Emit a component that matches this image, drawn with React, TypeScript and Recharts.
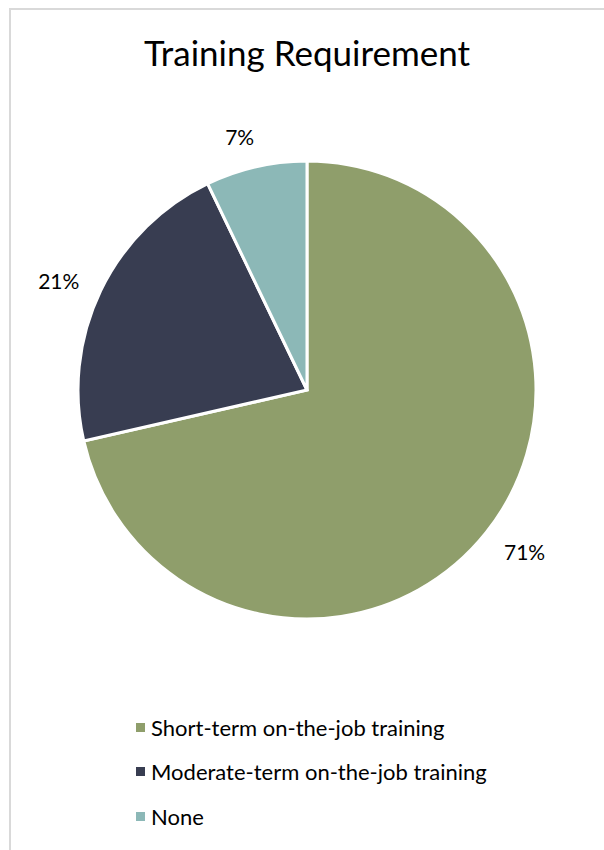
import { PieChart, Pie, Cell, Legend } from "recharts";

const categories = [
  "Short-term on-the-job training",
  "Moderate-term on-the-job training",
  "None",
];
const counts = [10, 3, 1];
const percentLabels = ["71%", "21%", "7%"];
const colors = ["#8F9E6B", "#383D51", "#8CB8B7"];

const data = categories.map((name, i) => ({
  name,
  value: counts[i],
  label: percentLabels[i],
}));

const FONT = "Lato, 'Noto Sans', sans-serif";
const RAD = Math.PI / 180;
const LABEL_SIZE = 21;

// label box sits a fixed gap outside the arc, like Excel's "outside end"
const renderLabel = (props: any) => {
  const { cx, cy, midAngle, outerRadius, index } = props;
  const text = percentLabels[index];
  const a = (midAngle + 2) * RAD;
  const ux = Math.cos(-a);
  const uy = Math.sin(-a);
  const halfW = (text.length * LABEL_SIZE * 0.62) / 2;
  const halfH = LABEL_SIZE / 2;
  const r = outerRadius + 20 + Math.abs(ux) * halfW + Math.abs(uy) * halfH;
  return (
    <text
      x={cx + r * ux}
      y={cy + r * uy}
      fill="#000"
      fontSize={LABEL_SIZE}
      fontFamily={FONT}
      textAnchor="middle"
      dominantBaseline="central"
    >
      {text}
    </text>
  );
};

const renderLegend = () => (
  <div style={{ fontFamily: FONT, fontSize: 22, color: "#000" }}>
    {data.map((d, i) => (
      <div
        key={d.name}
        style={{ display: "flex", alignItems: "center", height: 44.5 }}
      >
        <span
          style={{
            display: "inline-block",
            width: 9,
            height: 9,
            background: colors[i],
            marginRight: 6,
          }}
        />
        {d.name}
      </div>
    ))}
  </div>
);

export default function App() {
  return (
    <div
      style={{
        position: "absolute",
        left: 0,
        top: 0,
        width: 604,
        height: 850,
        background: "#fff",
        overflow: "hidden",
      }}
    >
      <div
        style={{
          position: "absolute",
          left: 9,
          top: 8,
          width: 620,
          height: 880,
          border: "2px solid #d9d9d9",
          boxSizing: "border-box",
        }}
      />
      <div
        style={{
          position: "absolute",
          left: 0,
          top: 31,
          width: 614,
          textAlign: "center",
          fontFamily: FONT,
          fontSize: 35,
          color: "#000",
        }}
      >
        Training Requirement
      </div>
      <div style={{ position: "absolute", left: 0, top: 0 }}>
        <PieChart
          width={604}
          height={850}
          margin={{ top: 0, right: 0, bottom: 0, left: 0 }}
        >
          <Pie
            data={data}
            dataKey="value"
            nameKey="name"
            cx={307}
            cy={390}
            outerRadius={229}
            startAngle={90}
            endAngle={-270}
            stroke="#fff"
            strokeWidth={3}
            label={renderLabel}
            labelLine={false}
            isAnimationActive={false}
          >
            {data.map((d, i) => (
              <Cell key={d.name} fill={colors[i]} />
            ))}
          </Pie>
          <Legend
            content={renderLegend}
            wrapperStyle={{ position: "absolute", left: 136, top: 705, width: 440 }}
          />
        </PieChart>
      </div>
    </div>
  );
}
